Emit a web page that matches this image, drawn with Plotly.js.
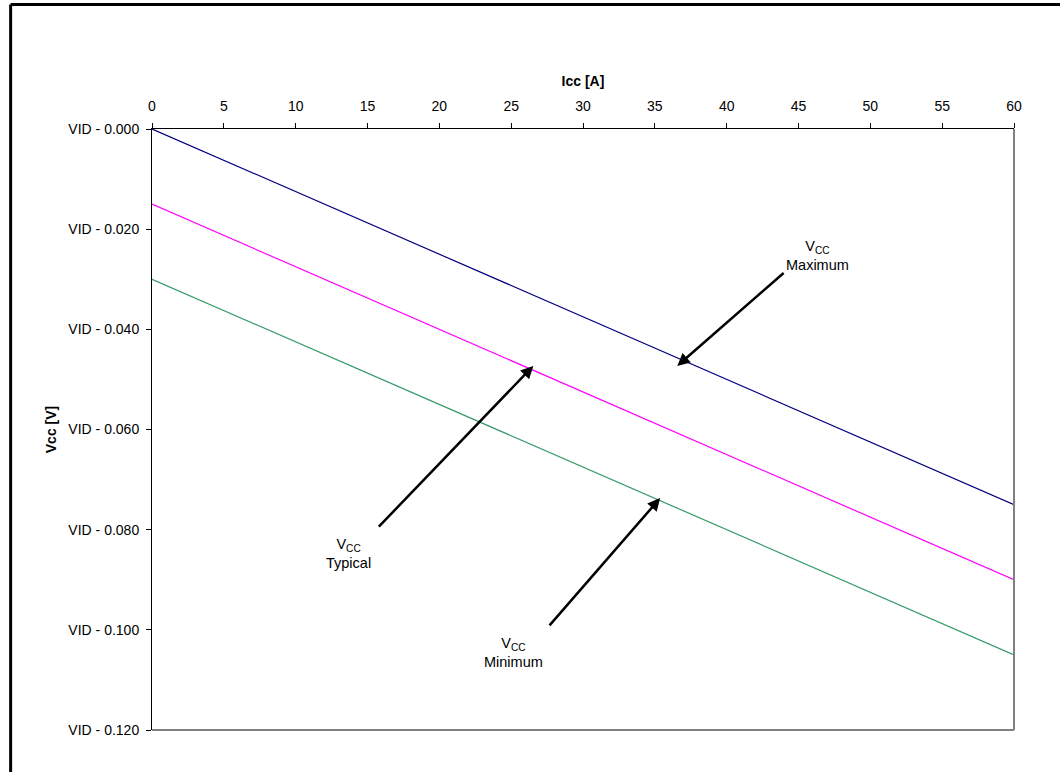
<!DOCTYPE html>
<html>
<head>
<meta charset="utf-8">
<script src="https://cdn.plot.ly/plotly-3.0.1.min.js"></script>
<style>
  html, body { margin: 0; padding: 0; background: #fff; }
  #chart { width: 1060px; height: 772px; }
</style>
</head>
<body>
<div id="chart"></div>
<script>
// Data
const icc = [0, 60];
const vccMaximum = [0.000, -0.075];
const vccTypical = [-0.015, -0.090];
const vccMinimum = [-0.030, -0.105];

const xTicks = [0, 5, 10, 15, 20, 25, 30, 35, 40, 45, 50, 55, 60];
const yTickVals = [0, -0.02, -0.04, -0.06, -0.08, -0.10, -0.12];
const yTickText = ["VID - 0.000", "VID - 0.020", "VID - 0.040", "VID - 0.060", "VID - 0.080", "VID - 0.100", "VID - 0.120"];

const FONT = "Liberation Sans, Arial, sans-serif";

const traces = [
  { x: icc, y: vccMaximum, mode: "lines", name: "Vcc Maximum", line: { color: "#000080", width: 1.2 } },
  { x: icc, y: vccTypical, mode: "lines", name: "Vcc Typical", line: { color: "#FF00FF", width: 1.2 } },
  { x: icc, y: vccMinimum, mode: "lines", name: "Vcc Minimum", line: { color: "#339966", width: 1.2 } }
];

function arrow(hx, hy, tx, ty) {
  return {
    x: hx, y: hy, xref: "x", yref: "y",
    ax: tx, ay: ty, axref: "x", ayref: "y",
    text: "", showarrow: true,
    arrowhead: 2, arrowsize: 1, arrowwidth: 2.5, arrowcolor: "#000",
    standoff: 0, startstandoff: 0
  };
}
function label(x, y, txt) {
  return {
    x: x, y: y, xref: "x", yref: "y", text: txt, showarrow: false,
    font: { family: FONT, size: 14.5, color: "#000" }, align: "center",
    xanchor: "center", yanchor: "middle"
  };
}

const layout = {
  width: 1060, height: 772,
  margin: { l: 151.5, r: 46, t: 129.3, b: 41.5 },
  paper_bgcolor: "#fff", plot_bgcolor: "#fff",
  showlegend: false,
  font: { family: FONT, size: 14, color: "#000" },
  xaxis: {
    side: "top", range: [0, 60], tickvals: xTicks, ticktext: xTicks.map(String),
    showgrid: false, zeroline: false, showline: true, linecolor: "#000", linewidth: 1,
    ticks: "outside", ticklen: 5, tickcolor: "#000", tickwidth: 1,
    ticklabelstandoff: 6,
    tickfont: { family: FONT, size: 14, color: "#000" },
    title: { text: "<b>Icc [A]</b>", font: { family: FONT, size: 14, color: "#000" }, standoff: 8 }
  },
  yaxis: {
    range: [-0.12, 0], tickvals: yTickVals, ticktext: yTickText,
    showgrid: false, zeroline: false, showline: true, linecolor: "#000", linewidth: 1,
    ticks: "outside", ticklen: 5, tickcolor: "#000", tickwidth: 1,
    ticklabelstandoff: 4,
    tickfont: { family: FONT, size: 14, color: "#000" },
    title: { text: "<b>Vcc [V]</b>", font: { family: FONT, size: 14, color: "#000" }, standoff: 8 }
  },
  shapes: [
    { type: "line", xref: "paper", yref: "paper", x0: 1, x1: 1, y0: 0, y1: 1, line: { color: "#808080", width: 2 } },
    { type: "line", xref: "paper", yref: "paper", x0: 0, x1: 1, y0: 0, y1: 0, line: { color: "#808080", width: 2 } },
    { type: "line", xref: "paper", yref: "paper", x0: -0.164, x1: -0.164, y0: -0.2, y1: 1.207, line: { color: "#000", width: 3 } },
    { type: "line", xref: "paper", yref: "paper", x0: -0.164, x1: 1.2, y0: 1.207, y1: 1.207, line: { color: "#000", width: 3 } }
  ],
  annotations: [
    arrow(36.56, -0.0473, 44.07, -0.0285),
    arrow(26.54, -0.0473, 15.69, -0.0797),
    arrow(35.37, -0.0737, 27.58, -0.0994),
    label(46.30, -0.0253, "V<sub>CC</sub><br>Maximum"),
    label(13.67, -0.0848, "V<sub>CC</sub><br>Typical"),
    label(25.15, -0.1045, "V<sub>CC</sub><br>Minimum")
  ]
};

Plotly.newPlot("chart", traces, layout, { displayModeBar: false, staticPlot: true });
</script>
</body>
</html>
